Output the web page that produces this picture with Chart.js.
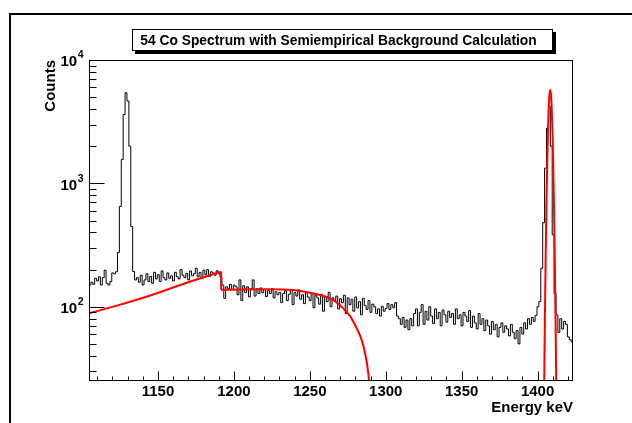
<!DOCTYPE html>
<html><head><meta charset="utf-8">
<script src="https://cdn.jsdelivr.net/npm/chart.js@4/dist/chart.umd.min.js"></script>
<style>html,body{margin:0;padding:0;background:#fff;overflow:hidden}canvas{display:block}</style>
</head><body>
<canvas id="c" width="632" height="423"></canvas>
<script>
// ---- data ----
const titleText = '54 Co Spectrum with Semiempirical Background Calculation';
const xTitle = 'Energy keV';
const yTitle = 'Counts';
const xMin = 1104.6, xMax = 1423.3;
const yMin = 25, yMax = 10000;
const binStart = 1104.6;   // keV, left edge of first bin
const binWidth = 1.25;     // keV
const counts = [
 150,158,152,170,162,175,150,172,198,155,
 150,160,188,185,192,275,650,1560,3614,5430,
 4650,2000,447,193,165,172,158,180,150,165,
 185,160,176,155,190,168,182,160,195,172,
 165,188,170,178,162,190,175,168,200,180,
 172,186,165,195,178,185,205,175,190,170,
 198,182,200,176,192,188,180,196,185,175,
 150,117,145,140,152,138,150,145,125,165,
 112,148,130,145,120,140,165,122,140,128,
 142,130,138,121,135,128,140,118,132,125,
 131,108,128,135,112,126,137,104,130,122,
 137,115,125,106,130,120,112,128,98,124,
 118,105,126,92,120,110,131,100,118,112,
 122,96,116,108,124,88,118,104,115,92,
 120,98,110,86,117,102,95,112,90,105,
 100,88,96,84,101,92,97,106,95,104,
 98,108,84,80,72,82,68,78,65,80,
 70,88,96,70,90,104,72,92,78,100,
 84,73,96,80,90,70,94,86,75,92,
 82,88,72,96,80,86,70,90,84,76,
 93,68,84,74,66,88,72,80,64,78,
 70,60,76,65,72,57,68,74,62,70,
 66,58,72,62,55,64,50,68,60,74,
 66,80,72,82,76,85,100,110,205,480,
 1330,2800,4200,2000,383,128,86,62,80,66,
 76,72,57,54,52
];
// semiempirical background, low side (rising part)
const bgLowE = [1104.6, 1124.1, 1146.0, 1168.0, 1191.6];
const bgLowV = [88.4, 103, 124.5, 155, 192];
// step of the background
const bgStepE = [1191.6, 1191.6];
const bgStepV = [192, 137];
// background, high side (falling part)
const bgHighE = [1191.6, 1204.1, 1221.7, 1239.2, 1252.4, 1263.3, 1269.9, 1276.5, 1280.9, 1284.2, 1286.4, 1288.5, 1289.6];
const bgHighV = [137, 138, 138.4, 136.8, 128, 117, 103, 84, 66.7, 53.6, 42, 28.9, 20];
// peak fit near 1408 keV
const peakE = [1403.8,1404.3,1404.8,1405.3,1405.8,1406.3,1406.8,1407.3,1407.8,1408.3,1408.8,1409.3,1409.8,1410.3,1410.8,1411.3,1411.8,1412.3,1412.8];
const peakV = [5,22,81,250,651,1420,2610,4030,5230,5700,5230,4030,2610,1420,651,250,81,22,5];
// axis ticks
const xTickValues = [1110,1120,1130,1140,1150,1160,1170,1180,1190,1200,1210,1220,1230,1240,1250,1260,1270,1280,1290,1300,1310,1320,1330,1340,1350,1360,1370,1380,1390,1400,1410,1420];
const xLabelValues = [1150,1200,1250,1300,1350,1400];
const yTickValues = [30,40,50,60,70,80,90,100,200,300,400,500,600,700,800,900,1000,2000,3000,4000,5000,6000,7000,8000,9000,10000];
const yLabelValues = [100,1000,10000];
const yLabelExps = ['2','3','4'];

// ---- build datasets ----
const histPts = counts.map((c,i)=>({x: binStart + i*binWidth, y: c}));
histPts.push({x: binStart + counts.length*binWidth, y: counts[counts.length-1]});
const zip = (E,V)=>E.map((e,i)=>({x:e,y:V[i]}));

const FONT = '"Liberation Sans", Arial, Helvetica, sans-serif';

const rootPlugin = {
  id: 'rootStyle',
  beforeDraw(chart){
    const ctx = chart.ctx;
    ctx.save(); ctx.fillStyle = '#fff'; ctx.fillRect(0,0,chart.width,chart.height); ctx.restore();
  },
  afterDraw(chart){
    const {ctx, chartArea:a, scales:{x, y}} = chart;
    ctx.save();
    ctx.strokeStyle = '#000';
    ctx.lineWidth = 1;
    // frame
    ctx.strokeRect(Math.round(a.left)+0.5, Math.round(a.top)+0.5, Math.round(a.right-a.left)-1, Math.round(a.bottom-a.top)-1);
    const bottom = Math.round(a.bottom)-0.5, left = Math.round(a.left)+0.5;
    // x ticks (inside)
    ctx.beginPath();
    x.ticks.forEach(t=>{
      const px = Math.round(x.getPixelForValue(t.value))+0.5;
      const len = xLabelValues.includes(t.value) ? 9 : 4;
      ctx.moveTo(px, bottom); ctx.lineTo(px, bottom-len);
    });
    // y ticks (inside)
    y.ticks.forEach(t=>{
      const py = Math.round(y.getPixelForValue(t.value))+0.5;
      const len = yLabelValues.includes(t.value) ? 15 : 7;
      ctx.moveTo(left, py); ctx.lineTo(left+len, py);
    });
    ctx.stroke();
    // y labels 10^n
    ctx.fillStyle = '#000';
    ctx.textBaseline = 'middle';
    yLabelValues.forEach((v,i)=>{
      const py = y.getPixelForValue(v);
      ctx.font = 'bold 10.5px ' + FONT;
      const we = ctx.measureText(yLabelExps[i]).width;
      const rightEdge = 83.5;
      ctx.textAlign = 'left';
      ctx.fillText(yLabelExps[i], rightEdge - we, py - 4.5);
      ctx.font = 'bold 15px ' + FONT;
      ctx.textAlign = 'right';
      ctx.fillText('10', rightEdge - we - 0.5, py + 2);
    });
    // title box with shadow
    const bx = 132, by = 29, bw = 421, bh = 22;
    ctx.fillStyle = '#000';
    ctx.fillRect(bx+3, by+3, bw, bh);
    ctx.fillStyle = '#fff';
    ctx.fillRect(bx, by, bw, bh);
    ctx.strokeRect(bx+0.5, by+0.5, bw-1, bh-1);
    ctx.fillStyle = '#000';
    ctx.font = 'bold 13.8px ' + FONT;
    ctx.textAlign = 'center';
    ctx.textBaseline = 'middle';
    ctx.fillText(titleText, bx + bw/2 - 4, by + bh/2 + 1);
    // outer canvas border
    ctx.lineWidth = 2;
    ctx.beginPath();
    ctx.moveTo(10, chart.height+2); ctx.lineTo(10, 14); ctx.lineTo(chart.width+2, 14);
    ctx.stroke();
    ctx.restore();
  }
};

new Chart(document.getElementById('c'), {
  type: 'line',
  data: {
    datasets: [
      { data: histPts, stepped: 'before', borderColor: '#000', borderWidth: 1, pointRadius: 0, fill: false, order: 2 },
      { data: zip(bgLowE,bgLowV), borderColor: '#ff0000', borderWidth: 2, pointRadius: 0, cubicInterpolationMode: 'monotone', fill: false, order: 1 },
      { data: zip(bgStepE,bgStepV), borderColor: '#ff0000', borderWidth: 2, pointRadius: 0, tension: 0, fill: false, order: 1 },
      { data: zip(bgHighE,bgHighV), borderColor: '#ff0000', borderWidth: 2, pointRadius: 0, cubicInterpolationMode: 'monotone', fill: false, order: 1 },
      { data: zip(peakE,peakV), borderColor: '#ff0000', borderWidth: 2, pointRadius: 0, cubicInterpolationMode: 'monotone', fill: false, order: 1 }
    ]
  },
  options: {
    responsive: false,
    animation: false,
    devicePixelRatio: 1,
    parsing: false,
    layout: { padding: { left: 0, right: 59, top: 60, bottom: 0 } },
    plugins: { legend: { display: false }, tooltip: { enabled: false }, title: { display: false } },
    scales: {
      x: {
        type: 'linear', min: xMin, max: xMax, position: 'bottom',
        grid: { display: false, drawTicks: false }, border: { display: false },
        afterBuildTicks: s => { s.ticks = xTickValues.map(v=>({value:v})); },
        afterFit: s => { s.height = 42; },
        ticks: { autoSkip: false, maxRotation: 0, padding: 2, color: '#000',
          font: { family: FONT, size: 15, weight: 'bold' },
          callback: v => xLabelValues.includes(v) ? String(v) : '' },
        title: { display: true, text: xTitle, align: 'end', color: '#000',
          font: { family: FONT, size: 15, weight: 'bold' }, padding: { top: 0, bottom: 6 } }
      },
      y: {
        type: 'logarithmic', min: yMin, max: yMax, position: 'left',
        grid: { display: false, drawTicks: false }, border: { display: false },
        afterBuildTicks: s => { s.ticks = yTickValues.map(v=>({value:v})); },
        afterFit: s => { s.width = 89; },
        ticks: { display: false },
        title: { display: true, text: yTitle, align: 'end', color: '#000',
          font: { family: FONT, size: 15, weight: 'bold' }, padding: { top: 42, bottom: 0 } }
      }
    }
  },
  plugins: [rootPlugin]
});
</script>
</body></html>
